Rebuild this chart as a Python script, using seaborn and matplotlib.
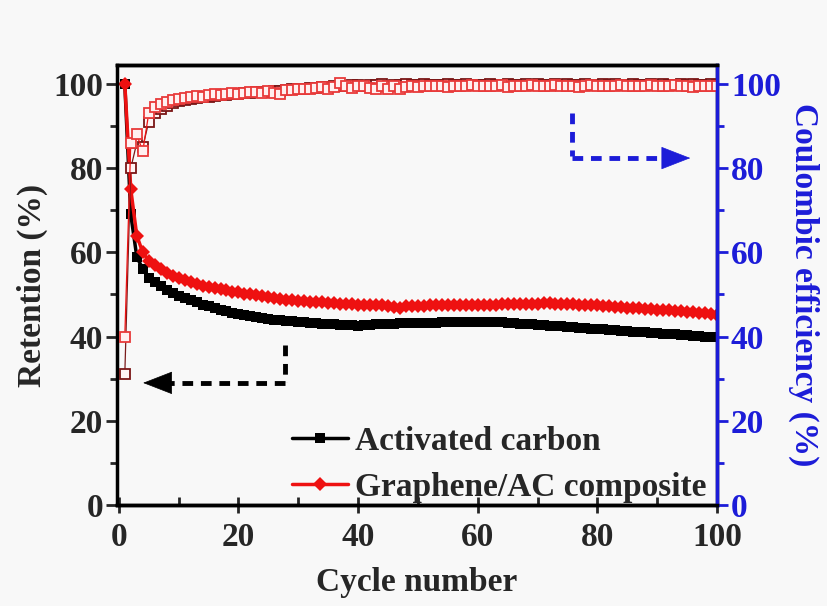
import matplotlib
matplotlib.use("Agg")
import matplotlib.pyplot as plt
from matplotlib.ticker import MultipleLocator
import numpy as np
import pandas as pd
import seaborn as sns

# ---- data -------------------------------------------------------------
cycles = list(range(1, 101))

retention_ac = [
    100, 69, 59, 56, 54, 53, 52, 51, 50.3, 49.7,
    49.1, 48.6, 48.1, 47.6, 47.2, 46.8, 46.4, 46.0, 45.7, 45.4,
    45.1, 44.8, 44.6, 44.4, 44.2, 44.0, 43.9, 43.7, 43.6, 43.5,
    43.4, 43.3, 43.2, 43.1, 43.0, 42.9, 42.8, 42.7, 42.7, 42.6,
    42.7, 42.8, 42.9, 43.0, 43.1, 43.1, 43.2, 43.2, 43.3, 43.3,
    43.3, 43.3, 43.3, 43.4, 43.4, 43.4, 43.4, 43.5, 43.5, 43.5,
    43.5, 43.5, 43.4, 43.4, 43.3, 43.2, 43.1, 43.0, 42.9, 42.8,
    42.7, 42.6, 42.5, 42.4, 42.3, 42.2, 42.1, 42.0, 41.9, 41.8,
    41.7, 41.6, 41.5, 41.4, 41.3, 41.2, 41.1, 41.0, 40.9, 40.8,
    40.7, 40.6, 40.5, 40.4, 40.3, 40.2, 40.1, 40.0, 40.0, 39.9,
]

retention_gac = [
    100, 75, 64, 60, 58, 57, 56, 55, 54.5, 54.0,
    53.5, 53.0, 52.5, 52.0, 51.8, 51.5, 51.2, 51.0, 50.7, 50.5,
    50.2, 50.0, 49.8, 49.6, 49.4, 49.2, 49.0, 48.8, 48.6, 48.5,
    48.4, 48.3, 48.2, 48.1, 48.0, 47.9, 47.8, 47.8, 47.7, 47.6,
    47.5, 47.5, 47.4, 47.4, 47.3, 47.0, 46.8, 47.2, 47.3, 47.3,
    47.3, 47.4, 47.4, 47.5, 47.5, 47.5, 47.6, 47.6, 47.5, 47.5,
    47.5, 47.6, 47.6, 47.7, 47.7, 47.7, 47.8, 47.8, 47.8, 47.8,
    47.9, 47.9, 47.8, 47.8, 47.7, 47.7, 47.6, 47.6, 47.5, 47.4,
    47.3, 47.2, 47.1, 47.0, 46.9, 46.8, 46.7, 46.6, 46.5, 46.4,
    46.3, 46.2, 46.1, 46.0, 45.9, 45.8, 45.6, 45.5, 45.3, 45.2,
]

ce_ac = [
    31, 80, 86, 85, 91, 93, 94, 94.8, 95.4, 95.9,
    96.2, 96.5, 96.7, 96.9, 97.0, 97.2, 97.3, 97.4, 97.6, 97.7,
    97.8, 97.9, 98.0, 98.1, 98.2, 98.3, 98.4, 98.5, 98.7, 98.8,
    98.9, 99.0, 99.1, 99.2, 99.3, 99.4, 99.5, 99.6, 99.7, 99.8,
    99.6, 99.8, 99.7, 99.9, 99.6, 99.8, 99.7, 99.9, 99.8, 99.7,
    99.9, 99.8, 99.7, 99.8, 99.9, 99.7, 99.8, 99.9, 99.8, 99.7,
    99.8, 99.9, 99.7, 99.8, 99.9, 99.8, 99.7, 99.9, 99.8, 99.9,
    99.8, 99.7, 99.9, 99.8, 99.9, 99.7, 99.8, 99.9, 99.8, 99.7,
    99.9, 99.8, 99.9, 99.7, 99.8, 99.9, 99.8, 99.7, 99.9, 99.8,
    99.9, 99.8, 99.7, 99.9, 99.8, 99.9, 99.8, 99.7, 99.9, 99.8,
]

ce_gac = [
    40, 86, 88, 84, 93, 94.5, 95.2, 95.8, 96.1, 96.4,
    96.6, 96.9, 97.1, 97.0, 97.3, 97.5, 97.4, 97.7, 97.8, 97.6,
    97.9, 98.0, 98.2, 97.9, 98.3, 97.8, 97.6, 98.5, 98.6, 98.7,
    98.9, 98.8, 99.0, 99.2, 98.9, 99.3, 100.3, 99.5, 99.1, 99.6,
    99.4, 99.0, 98.8, 99.6, 98.7, 99.5, 98.9, 99.3, 99.6, 99.2,
    99.5, 99.4, 99.6, 99.5, 99.3, 99.6, 99.4, 99.5, 99.7, 99.5,
    99.6, 99.4, 99.5, 99.7, 99.3, 99.6, 99.5, 99.4, 99.7, 99.5,
    99.6, 99.5, 99.7, 99.4, 99.6, 99.5, 99.3, 99.6, 99.7, 99.5,
    99.4, 99.6, 99.5, 99.7, 99.6, 99.4, 99.5, 99.6, 99.8, 99.5,
    99.6, 99.4, 99.7, 99.5, 99.6, 99.3, 99.5, 99.6, 99.4, 99.5,
]

labels = ["Activated carbon", "Graphene/AC composite"]

# ---- style ------------------------------------------------------------
sns.set_theme(style="white")
plt.rcParams["font.family"] = ["Liberation Serif", "DejaVu Serif"]
plt.rcParams["font.weight"] = "bold"
plt.rcParams["axes.labelweight"] = "bold"

BLUE = "#1c1cd8"
RED = "#ee1111"
FS = 24

df = pd.DataFrame({
    "cycle": cycles,
    "ret_ac": retention_ac,
    "ret_gac": retention_gac,
    "ce_ac": ce_ac,
    "ce_gac": ce_gac,
})

fig = plt.figure(figsize=(8.27, 6.06), dpi=100, facecolor="#f8f8f8")
ax = fig.add_axes([0.1415, 0.1667, 0.7255, 0.726])
ax.set_facecolor("#f8f8f8")

# retention curves (left axis)
sns.lineplot(data=df, x="cycle", y="ret_ac", ax=ax, color="black",
             marker="s", markersize=7.5, markeredgewidth=0, linewidth=2.5,
             label=labels[0])
sns.lineplot(data=df, x="cycle", y="ret_gac", ax=ax, color=RED,
             marker="D", markersize=7.5, markeredgewidth=0, linewidth=2.5,
             label=labels[1])

ax.set_xlim(-0.3, 100)
ax.set_ylim(0, 104.5)
ax.xaxis.set_major_locator(MultipleLocator(20))
ax.xaxis.set_minor_locator(MultipleLocator(10))
ax.yaxis.set_major_locator(MultipleLocator(20))
ax.yaxis.set_minor_locator(MultipleLocator(10))
ax.set_xlabel("Cycle number", fontsize=FS, fontweight="bold", labelpad=10)
ax.set_ylabel("Retention (%)", fontsize=FS, fontweight="bold", labelpad=4)
ax.tick_params(axis="y", which="major", direction="out", length=8, width=2,
               labelsize=FS, pad=2, left=True)
ax.tick_params(axis="y", which="minor", direction="out", length=5, width=2,
               left=True)
ax.tick_params(axis="x", which="major", direction="inout", length=12, width=2,
               labelsize=FS, pad=6, bottom=True)
ax.tick_params(axis="x", which="minor", direction="in", length=6, width=2,
               bottom=True)
for s in ax.spines.values():
    s.set_linewidth(2.5)
    s.set_color("black")

# coulombic efficiency (right axis)
ax2 = ax.twinx()
sns.lineplot(data=df, x="cycle", y="ce_ac", ax=ax2, color="#7a1a1a",
             marker="s", markersize=7.5, markerfacecolor="#fff4f4",
             markeredgecolor="#7a1515", markeredgewidth=1.3, linewidth=0.9,
             legend=False)
sns.lineplot(data=df, x="cycle", y="ce_gac", ax=ax2, color=RED,
             marker="s", markersize=7.5, markerfacecolor="#fff0f0",
             markeredgecolor="#e83a3a", markeredgewidth=1.3, linewidth=0.9,
             legend=False)
ax2.set_ylim(0, 104.5)
ax2.yaxis.set_major_locator(MultipleLocator(20))
ax2.yaxis.set_minor_locator(MultipleLocator(10))
ax2.set_ylabel("Coulombic efficiency (%)", fontsize=FS, fontweight="bold",
               color=BLUE, rotation=270, labelpad=28)
ax2.tick_params(axis="y", which="major", direction="out", length=8, width=2,
                labelsize=FS, colors=BLUE, pad=2, right=True)
ax2.tick_params(axis="y", which="minor", direction="out", length=5, width=2,
                colors=BLUE, right=True)
for s in ax2.spines.values():
    s.set_linewidth(2.5)
ax2.spines["right"].set_color(BLUE)
ax2.spines["left"].set_visible(False)
ax2.spines["top"].set_color("black")
ax2.spines["bottom"].set_color("black")

for a in (ax, ax2):
    for lab in a.get_yticklabels() + a.get_xticklabels():
        lab.set_fontweight("bold")

# direction arrows: black towards the left axis, blue towards the right axis
dash = (0, (2.2, 1.6))
ax2.plot([27.8, 27.8], [38, 29.3], color="black", lw=3.5, ls=dash)
ax2.plot([27.8, 7.0], [29.0, 29.0], color="black", lw=3.5, ls=dash)
ax2.annotate("", xy=(3.6, 29.0), xytext=(7.5, 29.0),
             arrowprops=dict(arrowstyle="-|>,head_length=0.9,head_width=0.35",
                             color="black", lw=0.5, mutation_scale=22))
ax2.plot([75.8, 75.8], [93.2, 82.8], color=BLUE, lw=3.5, ls=dash)
ax2.plot([75.8, 91.0], [82.4, 82.4], color=BLUE, lw=3.5, ls=dash)
ax2.annotate("", xy=(96.0, 82.4), xytext=(91.0, 82.4),
             arrowprops=dict(arrowstyle="-|>,head_length=0.9,head_width=0.35",
                             color=BLUE, lw=0.5, mutation_scale=22))

# legend
handles, labs = ax.get_legend_handles_labels()
if ax.legend_:
    ax.legend_.remove()
leg = ax2.legend(handles, labs, loc="lower left", bbox_to_anchor=(0.258, -0.04),
                 frameon=False, handlelength=1.7,
                 handletextpad=0.2, labelspacing=0.45, borderaxespad=0.2,
                 prop={"weight": "bold", "size": FS})

fig.savefig("out.png", dpi=100, facecolor=fig.get_facecolor())
